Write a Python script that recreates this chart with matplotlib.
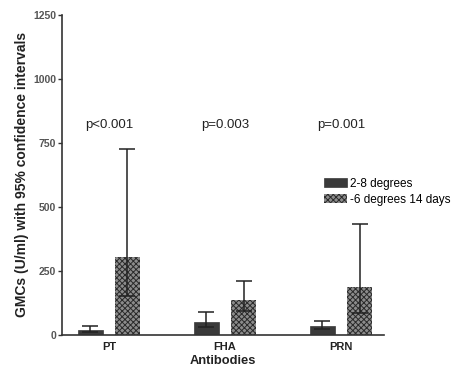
import matplotlib
matplotlib.use("Agg")
import matplotlib.pyplot as plt
import numpy as np

plt.rcParams["font.family"] = ["Liberation Sans", "DejaVu Sans"]
plt.rcParams["hatch.linewidth"] = 0.7

antibodies = ["PT", "FHA", "PRN"]
p_values = ["p<0.001", "p=0.003", "p=0.001"]

# geometric mean concentrations (U/ml) with 95% CI limits
gmc_cold = [20, 52, 36]
ci_low_cold = [12, 30, 22]
ci_high_cold = [35, 88, 55]

gmc_frozen = [303, 138, 189]
ci_low_frozen = [152, 92, 86]
ci_high_frozen = [725, 212, 432]

x = np.arange(len(antibodies))
width = 0.22
off = 0.16

fig = plt.figure(figsize=(4.62, 3.72), dpi=100)
ax = fig.add_axes([0.134, 0.0995, 0.697, 0.861])

ax.bar(x - off, gmc_cold, width, color="#3a3a3a", edgecolor="#3a3a3a",
       linewidth=0.5, label="2-8 degrees")
ax.bar(x + off, gmc_frozen, width, color="#8c8c8c", edgecolor="#2a2a2a",
       linewidth=0.0, hatch="xxxxxx", label="-6 degrees 14 days")

err_cold = [np.subtract(gmc_cold, ci_low_cold), np.subtract(ci_high_cold, gmc_cold)]
err_frozen = [np.subtract(gmc_frozen, ci_low_frozen), np.subtract(ci_high_frozen, gmc_frozen)]
ax.errorbar(x - off, gmc_cold, yerr=err_cold, fmt="none", ecolor="#222222",
            elinewidth=1.1, capsize=5.5, capthick=1.1)
ax.errorbar(x + off, gmc_frozen, yerr=err_frozen, fmt="none", ecolor="#222222",
            elinewidth=1.1, capsize=5.5, capthick=1.1)

for xi, p in zip(x, p_values):
    ax.text(xi, 820, p, ha="center", va="center", fontsize=9.5, color="#222222")

ax.set_xlim(-0.405, 2.37)
ax.set_ylim(0, 1250)
ax.set_yticks([0, 250, 500, 750, 1000, 1250])
ax.set_xticks(x)
ax.set_xticklabels(antibodies, fontsize=8, fontweight="bold", color="#222222")
ax.tick_params(axis="x", length=0, pad=5)
ax.tick_params(axis="y", length=3, width=1, labelsize=7.5, labelcolor="#555555",
               color="#333333", pad=1)
for lbl in ax.get_yticklabels():
    lbl.set_fontweight("bold")

for side in ["top", "right"]:
    ax.spines[side].set_visible(False)
for side in ["left", "bottom"]:
    ax.spines[side].set_linewidth(1.2)
    ax.spines[side].set_color("#333333")

ax.set_xlabel("Antibodies", fontsize=9.3, fontweight="bold", color="#222222", labelpad=2)
ax.set_ylabel("GMCs (U/ml) with 95% confidence intervals", fontsize=10,
              fontweight="bold", color="#222222", labelpad=3)

ax.legend(loc="upper left", bbox_to_anchor=(0.795, 0.51), frameon=False,
          fontsize=8.5, handlelength=2.0, handleheight=0.7, handletextpad=0.25,
          labelspacing=0.35, borderpad=0)

fig.savefig("out.png", dpi=100)
